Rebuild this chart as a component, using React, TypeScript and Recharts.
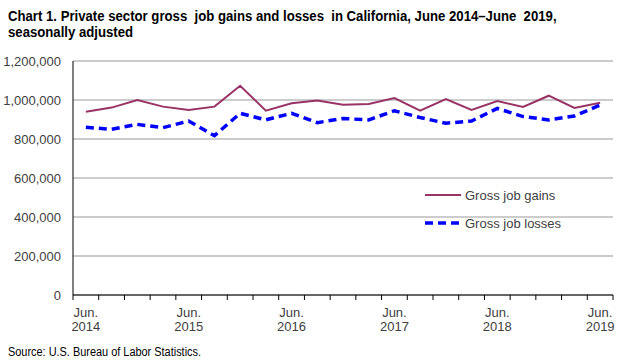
import { LineChart, Line, XAxis, YAxis, CartesianGrid, Legend } from 'recharts';

const quarters = [
  'Jun. 2014', 'Sep. 2014', 'Dec. 2014', 'Mar. 2015',
  'Jun. 2015', 'Sep. 2015', 'Dec. 2015', 'Mar. 2016',
  'Jun. 2016', 'Sep. 2016', 'Dec. 2016', 'Mar. 2017',
  'Jun. 2017', 'Sep. 2017', 'Dec. 2017', 'Mar. 2018',
  'Jun. 2018', 'Sep. 2018', 'Dec. 2018', 'Mar. 2019',
  'Jun. 2019',
];

const gains = [
  940000, 961000, 1000000, 966000, 949000, 966000, 1073000, 945000,
  983000, 997000, 976000, 980000, 1010000, 945000, 1005000, 949000,
  995000, 964000, 1022000, 959000, 986000,
];

const losses = [
  860000, 850000, 875000, 858000, 892000, 817000, 932000, 898000,
  932000, 884000, 905000, 898000, 945000, 910000, 881000, 892000,
  957000, 915000, 898000, 918000, 974000,
];

const yTicks = [0, 200000, 400000, 600000, 800000, 1000000, 1200000];

const data = quarters.map((q, i) => ({ quarter: q, gains: gains[i], losses: losses[i] }));

const seriesStyle: Record<string, { width: number; dash?: string }> = {
  gains: { width: 2 },
  losses: { width: 3.5, dash: '8 5' },
};

const TEXT = '#404040';
const FONT = 'Arial, "Liberation Sans", sans-serif';
const PLOT_W = 540;
const HALF = PLOT_W / quarters.length / 2;

function QuarterTick(props: any) {
  const { x, y, payload } = props;
  const [mon, yr] = String(payload.value).split(' ');
  const last = payload.index === quarters.length - 1;
  return (
    <g>
      <line x1={x - HALF} x2={x - HALF} y1={y} y2={y + 5} stroke="#000" />
      {last && <line x1={x + HALF} x2={x + HALF} y1={y} y2={y + 5} stroke="#000" />}
      {mon === 'Jun.' && (
        <text textAnchor="middle" fill={TEXT} fontSize={13} fontFamily={FONT}>
          <tspan x={x} y={y + 22}>{mon}</tspan>
          <tspan x={x} y={y + 36}>{yr}</tspan>
        </text>
      )}
    </g>
  );
}

function renderLegend(props: any) {
  const { payload } = props;
  return (
    <div>
      {payload.map((p: any) => {
        const s = seriesStyle[p.dataKey];
        return (
          <div key={p.value} style={{ display: 'flex', alignItems: 'center', height: 28 }}>
            <svg width={36} height={8} style={{ marginRight: 4 }}>
              <line x1={0} x2={36} y1={4} y2={4} stroke={p.color} strokeWidth={s.width} strokeDasharray={s.dash} />
            </svg>
            <span style={{ fontFamily: FONT, fontSize: 13, color: TEXT }}>{p.value}</span>
          </div>
        );
      })}
    </div>
  );
}

const fmt = (v: number) => v.toLocaleString('en-US');

export default function App() {
  return (
    <div style={{ position: 'absolute', left: 0, top: 0, width: 622, height: 364, background: '#fff' }}>
      <div
        style={{
          position: 'absolute', left: 8, top: 8, fontFamily: FONT, fontWeight: 'bold',
          fontSize: 14, lineHeight: '16px', color: '#000', whiteSpace: 'pre',
          transform: 'scaleX(0.94)', transformOrigin: 'left top',
        }}
      >
        {'Chart 1. Private sector gross  job gains and losses  in California, June 2014\u2013June  2019,\nseasonally adjusted'}
      </div>
      <LineChart width={622} height={364} data={data} margin={{ top: 61, right: 9, left: 0, bottom: 29 }}>
        <CartesianGrid vertical={false} stroke="#999" />
        <XAxis
          dataKey="quarter"
          interval={0}
          padding={{ left: HALF, right: HALF }}
          height={40}
          tickSize={0}
          tickMargin={0}
          tickLine={false}
          axisLine={{ stroke: '#000' }}
          tick={<QuarterTick />}
        />
        <YAxis
          width={73}
          domain={[0, 1200000]}
          ticks={yTicks}
          tickFormatter={fmt}
          tickSize={0}
          tickMargin={12}
          tickLine={false}
          axisLine={{ stroke: '#000' }}
          tick={{ fill: TEXT, fontSize: 13, fontFamily: FONT }}
        />
        <YAxis yAxisId="r" orientation="right" width={0} domain={[0, 1200000]} tick={false} tickLine={false} axisLine={{ stroke: '#999' }} />
        <Legend
          layout="horizontal"
          verticalAlign="middle"
          align="center"
          content={renderLegend}
          wrapperStyle={{ position: 'absolute', left: 425, top: 181, width: 'auto' }}
        />
        <Line
          dataKey="gains"
          name="Gross job gains"
          stroke="#993366"
          strokeWidth={seriesStyle.gains.width}
          dot={false}
          isAnimationActive={false}
        />
        <Line
          dataKey="losses"
          name="Gross job losses"
          stroke="#0000ff"
          strokeWidth={seriesStyle.losses.width}
          strokeDasharray={seriesStyle.losses.dash}
          dot={false}
          isAnimationActive={false}
        />
      </LineChart>
      <div
        style={{
          position: 'absolute', left: 8, top: 345, fontFamily: FONT, fontSize: 12, color: '#000',
          whiteSpace: 'pre', transform: 'scaleX(0.91)', transformOrigin: 'left top',
        }}
      >
        Source: U.S. Bureau of Labor Statistics.
      </div>
    </div>
  );
}
